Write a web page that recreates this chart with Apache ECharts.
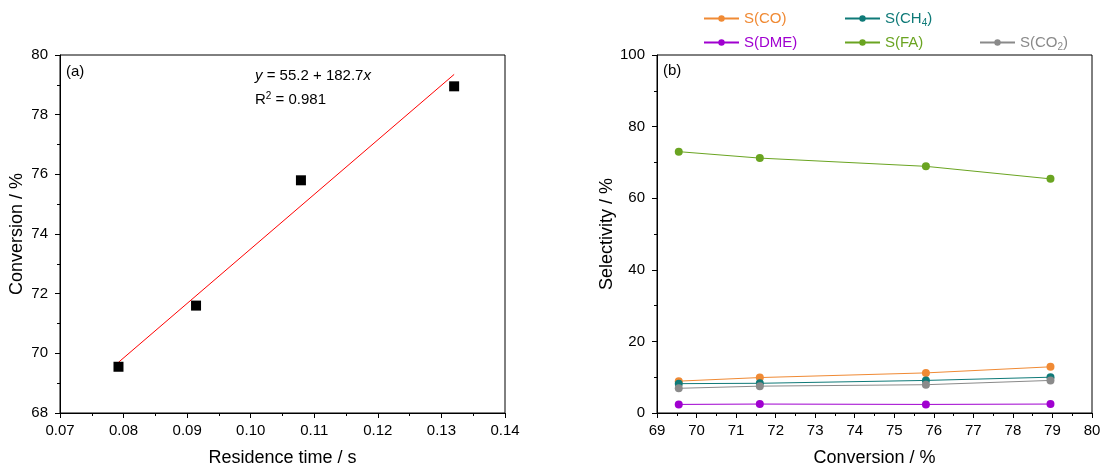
<!DOCTYPE html>
<html>
<head>
<meta charset="utf-8">
<script src="https://cdn.jsdelivr.net/npm/echarts@6/dist/echarts.min.js"></script>
<style>
  html, body { margin: 0; padding: 0; background: #fff; }
  #chart { width: 1113px; height: 468px; }
</style>
</head>
<body>
<div id="chart"></div>
<script>
// panel (a): conversion vs residence time
var residenceTime = [0.0792, 0.0914, 0.1079, 0.1320];
var conversion = [69.55, 71.6, 75.8, 78.95];
// linear fit line ends
var fitX = [0.0792, 0.1320];
var fitY = [69.7, 79.35];

// panel (b): selectivity vs conversion
var seriesNames = ['S(CO)', 'S(CH4)', 'S(DME)', 'S(FA)', 'S(CO2)'];
var selCO = [8.9, 9.9, 11.2, 12.9];
var selCH4 = [8.2, 8.3, 9.1, 10.0];
var selDME = [2.4, 2.5, 2.4, 2.5];
var selFA = [73.0, 71.2, 68.9, 65.4];
var selCO2 = [6.9, 7.5, 7.9, 9.1];
var colors = ['#f08a34', '#0f7a78', '#a000d0', '#6aa421', '#8a8a8a'];

var FONT = 'Liberation Sans, Arial, sans-serif';

var chart = echarts.init(document.getElementById('chart'));

function pairs(xs, ys) {
  return xs.map(function (x, i) { return [x, ys[i]]; });
}

// legend labels with subscripts
function legendLabel(name) {
  if (name === 'S(CH4)') return '{a|S(CH}{s|4}{a|)}';
  if (name === 'S(CO2)') return '{a|S(CO}{s|2}{a|)}';
  return '{a|' + name + '}';
}
function makeLegend(name, left, top, color) {
  return {
    data: [name],
    left: left,
    top: top,
    itemWidth: 35,
    itemHeight: 8,
    itemGap: 5,
    formatter: legendLabel,
    textStyle: {
      color: color,
      fontFamily: FONT,
      rich: {
        a: { color: color, fontSize: 15, fontFamily: FONT, height: 18 },
        s: { color: color, fontSize: 10, fontFamily: FONT, padding: [9, 0, 0, 0] }
      }
    }
  };
}

function valueAxis(o) {
  return Object.assign({
    type: 'value',
    nameLocation: 'middle',
    nameTextStyle: { color: '#000', fontSize: 18, fontFamily: FONT },
    axisLine: { show: true, onZero: false, lineStyle: { color: '#000', width: 1 } },
    axisTick: { show: true, length: 5, inside: false, lineStyle: { color: '#000' } },
    minorTick: { show: true, splitNumber: 2, length: 3, lineStyle: { color: '#000' } },
    axisLabel: { color: '#000', fontSize: 15, fontFamily: FONT },
    splitLine: { show: false }
  }, o);
}

var option = {
  backgroundColor: '#fff',
  animation: false,
  grid: [
    { left: 60, top: 55, width: 445, height: 358, show: true, borderColor: '#000', borderWidth: 1,
      outerBoundsMode: 'none', containLabel: false },
    { left: 657, top: 55, width: 435, height: 358, show: true, borderColor: '#000', borderWidth: 1,
      outerBoundsMode: 'none', containLabel: false }
  ],
  legend: [
    makeLegend('S(CO)', 698, 6, colors[0]),
    makeLegend('S(CH4)', 839, 6, colors[1]),
    makeLegend('S(DME)', 698, 30, colors[2]),
    makeLegend('S(FA)', 839, 30, colors[3]),
    makeLegend('S(CO2)', 974, 30, colors[4])
  ],
  xAxis: [
    valueAxis({
      gridIndex: 0, min: 0.07, max: 0.14, interval: 0.01,
      name: 'Residence time / s', nameGap: 36,
      axisLabel: { color: '#000', fontSize: 15, fontFamily: FONT, margin: 10,
        formatter: function (v) { return v.toFixed(2); } }
    }),
    valueAxis({
      gridIndex: 1, min: 69, max: 80, interval: 1,
      name: 'Conversion / %', nameGap: 36,
      axisLabel: { color: '#000', fontSize: 15, fontFamily: FONT, margin: 10 }
    })
  ],
  yAxis: [
    valueAxis({
      gridIndex: 0, min: 68, max: 80, interval: 2,
      name: 'Conversion / %', nameGap: 34,
      axisLabel: { color: '#000', fontSize: 15, fontFamily: FONT, margin: 12 }
    }),
    valueAxis({
      gridIndex: 1, min: 0, max: 100, interval: 20,
      name: 'Selectivity / %', nameGap: 41,
      axisLabel: { color: '#000', fontSize: 15, fontFamily: FONT, margin: 12 }
    })
  ],
  graphic: [
    { type: 'text', left: 66, top: 64, style: { text: '(a)', fontSize: 15, fontFamily: FONT, fill: '#000' } },
    { type: 'text', left: 663, top: 63, style: { text: '(b)', fontSize: 15, fontFamily: FONT, fill: '#000' } },
    {
      type: 'text', left: 255, top: 64,
      style: {
        text: '{i|y} = 55.2 + 182.7{i|x}\nR{p|2} = 0.981',
        fill: '#000', fontSize: 15, fontFamily: FONT, lineHeight: 24,
        rich: {
          i: { fontStyle: 'italic', fontSize: 15, fontFamily: FONT, fill: '#000' },
          p: { fontSize: 10, fontFamily: FONT, fill: '#000', padding: [0, 0, 8, 0] }
        }
      }
    }
  ],
  series: [
    {
      name: 'fit', type: 'line', xAxisIndex: 0, yAxisIndex: 0,
      data: pairs(fitX, fitY), symbol: 'none',
      lineStyle: { color: '#ff0000', width: 1 }, z: 2
    },
    {
      name: 'data', type: 'scatter', xAxisIndex: 0, yAxisIndex: 0,
      data: pairs(residenceTime, conversion), symbol: 'rect', symbolSize: 10,
      itemStyle: { color: '#000', opacity: 1 }, z: 3
    }
  ].concat([selCO, selCH4, selDME, selFA, selCO2].map(function (vals, i) {
    return {
      name: seriesNames[i], type: 'line', xAxisIndex: 1, yAxisIndex: 1,
      data: pairs(conversion, vals), symbol: 'circle', symbolSize: 8,
      itemStyle: { color: colors[i] },
      lineStyle: { color: colors[i], width: 1 }
    };
  }))
};

chart.setOption(option);
</script>
</body>
</html>
